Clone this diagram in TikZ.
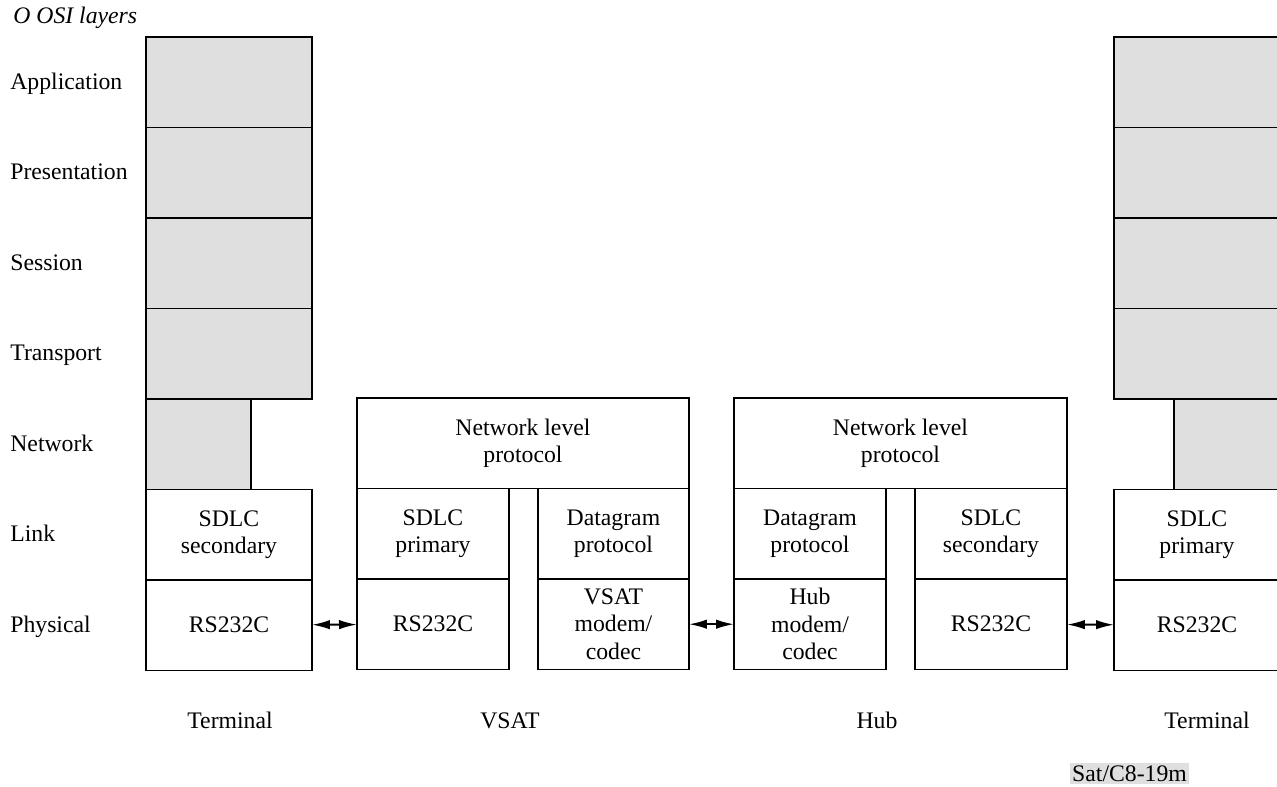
\documentclass[tikz,border=0pt]{standalone}
\usepackage{fontspec}
\setmainfont{Liberation Serif}
\usepackage{xcolor}
\usepackage{tikz}
\usetikzlibrary{arrows.meta,positioning}
\definecolor{osigrey}{RGB}{223,223,223}

\begin{document}
\begin{tikzpicture}[
  x=0.02cm, y=-0.02cm,
  node distance=0pt,
  font=\fontsize{13.5}{15.6}\selectfont,
  greybox/.style={rectangle, draw, fill=osigrey, line width=0.8pt, minimum height=1.81cm, inner sep=0pt, outer sep=0pt},
  box/.style={rectangle, draw, fill=white, line width=0.8pt, align=center, minimum height=1.81cm, inner sep=0pt, outer sep=0pt},
  layer/.style={anchor=base west, inner sep=0pt, yshift=-4pt},
  caption/.style={anchor=base, inner sep=0pt},
  arrow/.style={{Latex[length=3.6mm,width=1.9mm]}-{Latex[length=3.6mm,width=1.9mm]}, line width=1.1pt}
]
\useasboundingbox (0,0) rectangle (1277,787);

\node[anchor=base west, inner sep=0pt, font=\fontsize{13.5}{15.6}\selectfont\itshape] (title) at (13,24) {O OSI layers};

% left terminal
\node[greybox, minimum width=3.32cm, anchor=north west] (tApp) at (146,37) {};
\node[greybox, minimum width=3.32cm, below=of tApp] (tPres) {};
\node[greybox, minimum width=3.32cm, below=of tPres] (tSess) {};
\node[greybox, minimum width=3.32cm, below=of tSess] (tTrans) {};
\node[greybox, minimum width=2.1cm, anchor=north west] (tNet) at (tTrans.south west) {};
\node[box, minimum width=3.32cm, anchor=north west] (tLink) at (tNet.south west) {SDLC\\secondary};
\node[box, minimum width=3.32cm, below=of tLink] (tPhy) {RS232C};

% VSAT
\node[box, minimum width=6.64cm, anchor=north west] (vNet) at (357,398) {Network level\\protocol};
\node[box, minimum width=3.04cm, anchor=north west] (vLink) at (vNet.south west) {SDLC\\primary};
\node[box, minimum width=3.04cm, below=of vLink] (vPhy) {RS232C};
\node[box, minimum width=3.02cm, anchor=north east] (vDgram) at (vNet.south east) {Datagram\\protocol};
\node[box, minimum width=3.02cm, below=of vDgram] (vModem) {VSAT\\modem/\\codec};

% Hub
\node[box, minimum width=6.66cm, anchor=north west] (hNet) at (734,398) {Network level\\protocol};
\node[box, minimum width=3.04cm, anchor=north west] (hDgram) at (hNet.south west) {Datagram\\protocol};
\node[box, minimum width=3.04cm, below=of hDgram] (hModem) {Hub\\modem/\\codec};
\node[box, minimum width=3.04cm, anchor=north east] (hLink) at (hNet.south east) {SDLC\\secondary};
\node[box, minimum width=3.04cm, below=of hLink] (hPhy) {RS232C};

% right terminal
\node[greybox, minimum width=3.32cm, anchor=north west] (uApp) at (1114,37) {};
\node[greybox, minimum width=3.32cm, below=of uApp] (uPres) {};
\node[greybox, minimum width=3.32cm, below=of uPres] (uSess) {};
\node[greybox, minimum width=3.32cm, below=of uSess] (uTrans) {};
\node[greybox, minimum width=2.12cm, anchor=north east] (uNet) at (uTrans.south east) {};
\node[box, minimum width=3.32cm, anchor=north east] (uLink) at (uNet.south east) {SDLC\\primary};
\node[box, minimum width=3.32cm, below=of uLink] (uPhy) {RS232C};

% layer names
\node[layer] (lApp) at (10,0 |- tApp) {Application};
\node[layer] (lPres) at (10,0 |- tPres) {Presentation};
\node[layer] (lSess) at (10,0 |- tSess) {Session};
\node[layer] (lTrans) at (10,0 |- tTrans) {Transport};
\node[layer] (lNet) at (10,0 |- tNet) {Network};
\node[layer] (lLink) at (10,0 |- tLink) {Link};
\node[layer] (lPhy) at (10,0 |- tPhy) {Physical};

\draw[arrow] (tPhy) -- (vPhy);
\draw[arrow] (vModem) -- (hModem);
\draw[arrow] (hPhy) -- (uPhy);

\node[caption] (cTerm) at (230,728) {Terminal};
\node[caption] (cVsat) at (510,728) {VSAT};
\node[caption] (cHub) at (877,728) {Hub};
\node[caption] (cTerm2) at (1207,728) {Terminal};

\node[anchor=base, fill=osigrey, inner sep=1.5pt] (fig) at (1129.5,781) {Sat/C8-19m};

\end{tikzpicture}
\end{document}
